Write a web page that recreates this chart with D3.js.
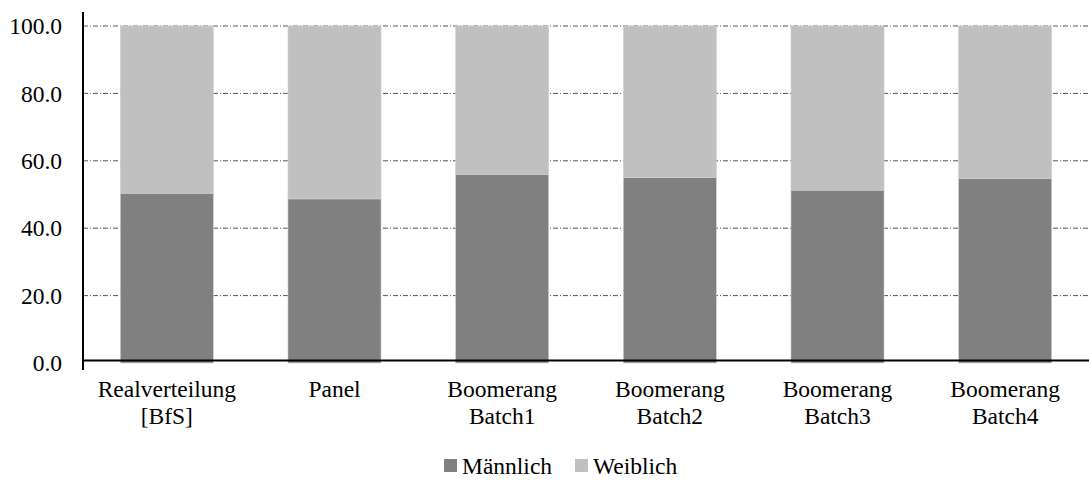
<!DOCTYPE html>
<html><head><meta charset="utf-8">
<script src="https://cdn.jsdelivr.net/npm/d3@7"></script>
<style>body{margin:0;background:#fff}svg{display:block}</style>
</head><body><svg id="c" width="1089" height="481"></svg>
<script>
const categories = [["Realverteilung","[BfS]"],["Panel"],["Boomerang","Batch1"],["Boomerang","Batch2"],["Boomerang","Batch3"],["Boomerang","Batch4"]];
const maleValues = [50.4, 48.7, 56.0, 55.0, 51.3, 54.7];
const femaleValues = [49.6, 51.3, 44.0, 45.0, 48.7, 45.3];
const seriesNames = ["Männlich", "Weiblich"];
const seriesColors = ["#808080", "#c0c0c0"];
const yTicks = [0, 20, 40, 60, 80, 100];

(function(){
const svg = d3.select("#c").attr("font-family", "'Liberation Serif', 'Times New Roman', Times, 'DejaVu Serif', serif");
const fs = 23.5;
const mLeft = 83, mRight = 1089, mTop = 26, mBottom = 363;
const keys = categories.map((c,i)=>i);
const x = d3.scaleBand().domain(keys).range([mLeft,mRight]).paddingInner(0.445).paddingOuter(0.2225);
const y = d3.scaleLinear().domain([0,100]).range([mBottom, mTop]);

// gridlines
svg.append("g").selectAll("line").data(yTicks.filter(t=>t>0)).join("line")
  .attr("x1", mLeft).attr("x2", mRight).attr("y1", d=>y(d)).attr("y2", d=>y(d))
  .attr("stroke", "#555").attr("stroke-width", 1).attr("stroke-dasharray", "5,2,1,2");

// stacked bars
const rows = keys.map(i=>({i, m: maleValues[i], w: femaleValues[i]}));
const stack = d3.stack().keys(["m","w"])(rows);
svg.append("g").selectAll("g").data(stack).join("g")
  .attr("fill", (d,k)=>seriesColors[k])
  .selectAll("rect").data(d=>d).join("rect")
  .attr("x", d=>x(d.data.i)).attr("width", x.bandwidth())
  .attr("y", d=>y(d[1])).attr("height", d=>y(d[0])-y(d[1]))
  .attr("stroke", "#d0d0d0").attr("stroke-width", 0.6);

// x axis line (drawn slightly above the zero baseline, as in reference)
svg.append("line").attr("x1", mLeft).attr("x2", mRight).attr("y1", y(0)-2.5).attr("y2", y(0)-2.5)
  .attr("stroke", "#000").attr("stroke-width", 2);
// y axis line
svg.append("line").attr("x1", mLeft).attr("x2", mLeft).attr("y1", 12).attr("y2", 370)
  .attr("stroke", "#000").attr("stroke-width", 2);

// y tick labels
svg.append("g").selectAll("text").data(yTicks).join("text")
  .attr("x", 62).attr("y", d=>y(d)).attr("dy", "0.35em").attr("text-anchor","end")
  .attr("font-size", fs).attr("fill","#000").text(d=>d3.format(".1f")(d));

// x labels
const xl = svg.append("g").selectAll("text").data(keys).join("text")
  .attr("text-anchor","middle").attr("font-size", fs).attr("fill","#000")
  .attr("transform", d=>`translate(${x(d)+x.bandwidth()/2},397)`);
xl.selectAll("tspan").data(d=>categories[d]).join("tspan")
  .attr("x",0).attr("y",(d,j)=>j*26.5).text(d=>d);

// legend
const lg = svg.append("g");
const legX = [444, 575];
seriesNames.forEach((n,k)=>{
  lg.append("rect").attr("x", legX[k]).attr("y", 459).attr("width", 13).attr("height", 13).attr("fill", seriesColors[k]);
  lg.append("text").attr("x", legX[k]+18).attr("y", 474).attr("font-size", fs).attr("fill","#000").text(n);
});
})();
</script></body></html>
